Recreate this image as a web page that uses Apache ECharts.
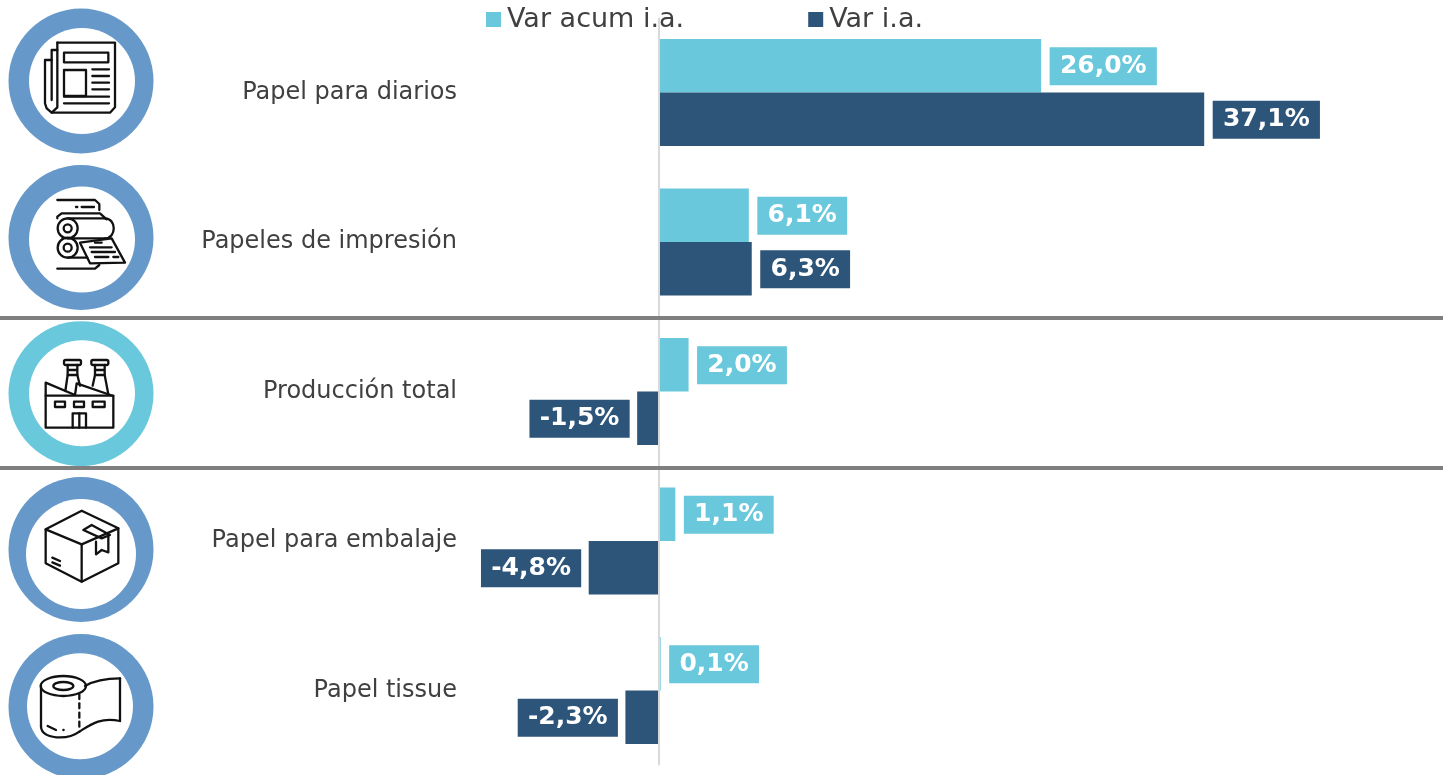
<!DOCTYPE html>
<html><head><meta charset="utf-8">
<style>html,body{margin:0;padding:0;background:#fff}#c{width:1443px;height:775px}</style>
<script src="https://cdn.jsdelivr.net/npm/echarts@6/dist/echarts.min.js"></script>
</head><body><div id="c"></div>
<script>
const categories = ['Papel para diarios','Papeles de impresión','Producción total','Papel para embalaje','Papel tissue'];
const varAcum = [26.0, 6.1, 2.0, 1.1, 0.1];
const varIa = [37.1, 6.3, -1.5, -4.8, -2.3];
const seriesNames = ['Var acum i.a.','Var i.a.'];
const LIGHT='#69C8DC', DARK='#2D5479', RING='#6699C9', INK='#111111';
const FONT='"DejaVu Sans", Verdana, sans-serif';

const chart = echarts.init(document.getElementById('c'));
const style = {stroke:INK, lineWidth:2.3, fill:'none', lineCap:'round', lineJoin:'round'};
function P(pts,close){return {type:close?'polygon':'polyline',shape:{points:pts.map(p=>[p[0]/3,p[1]/3])},style};}
function L(x1,y1,x2,y2){return {type:'line',shape:{x1:x1/3,y1:y1/3,x2:x2/3,y2:y2/3},style};}
function R(x,y,x2,y2,r){return {type:'rect',shape:{x:x/3,y:y/3,width:(x2-x)/3,height:(y2-y)/3,r:(r||0)/3},style};}
function C(x,y,r){return {type:'circle',shape:{cx:x/3,cy:y/3,r:r/3},style};}
function E(x,y,rx,ry){return {type:'ellipse',shape:{cx:x/3,cy:y/3,rx:rx/3,ry:ry/3},style};}
function B(x1,y1,a,b,c,d,x2,y2){return {type:'bezierCurve',shape:{x1:x1/3,y1:y1/3,cpx1:a/3,cpy1:b/3,cpx2:c/3,cpy2:d/3,x2:x2/3,y2:y2/3},style};}

const newspaper = [
  P([[172,128],[345,128],[345,322],[330,338],[155,338]]),
  P([[172,128],[172,322],[155,338],[140,325],[135,310],[135,180],[155,180]]),
  P([[172,150],[155,150],[155,300]]),
  R(192,158,325,187), R(192,210,258,288),
  L(277,208,327,208),L(277,228,327,228),L(277,248,327,248),L(277,268,327,268),L(192,290,327,290),L(192,310,327,310)
];
const rollers = [
  P([[172,600],[285,600],[298,612],[298,630]]), L(228,621,232,621), L(245,621,282,621),
  P([[172,655],[172,650],[185,640],[300,640],[320,658]]),
  C(203,685,30),C(203,685,12),C(203,743,30),C(203,743,12),
  L(203,655,315,655), B(315,655,350,655,350,715,315,715), L(203,715,315,715),
  P([[240,728],[335,715],[375,788],[270,790]],true), L(203,773,262,773),
  L(285,728,305,728),L(270,742,335,742),L(275,756,345,756),L(285,771,325,771),L(340,771,355,771),
  P([[172,806],[285,806],[298,795]])
];
const factory = [
  R(192,135,243,150,5),R(274,135,325,150,5),
  P([[203,150],[203,180],[196,228]]),P([[232,150],[232,180],[240,212]]),L(205,165,230,165),L(203,180,232,180),
  P([[285,150],[285,180],[278,212]]),P([[314,150],[314,180],[325,238]]),L(287,165,312,165),L(285,180,314,180),
  P([[137,338],[137,203],[225,240],[230,205],[340,243],[340,338]],true),L(137,242,340,242),
  R(165,260,195,276),R(222,260,252,276),R(278,260,314,276),
  P([[218,338],[218,295],[258,295],[258,338]]),L(238,295,238,338)
];
const box = [
  P([[245,587],[355,640],[355,745],[245,800],[137,745],[137,643]],true),
  P([[137,643],[245,688],[355,640]]),L(245,688,245,800),
  P([[250,645],[275,630],[330,660],[305,670]],true),
  P([[288,680],[288,718],[305,705],[325,712],[325,658]]),
  L(157,728,180,738),L(157,742,180,752)
];
const roll = [
  E(190,183,68,30),E(190,183,30,12),L(123,183,123,305),
  B(123,305,125,345,205,345,238,320),
  B(255,183,285,165,320,160,360,160),L(360,160,360,288),
  B(360,288,300,275,270,300,238,320),
  L(238,207,238,222),L(238,235,238,250),L(238,263,238,278),L(238,290,238,305),
  L(143,303,168,315),L(190,315,191,315)
];
// ring: outer centre/radius, hole centre/radius, colour, icon, icon offset
const rings = [
  [81,81,72.5, 82,81,53, RING, newspaper, 0,0],
  [81,237.5,72.5, 82,239.5,53, RING, rollers, 0,0],
  [81,393.7,72.5, 82,393.2,53, LIGHT, factory, 0,315],
  [81,549.5,72.5, 81,554,55, RING, box, 0,315],
  [81,706.5,72.5, 80,706.3,53, RING, roll, 0,625]
];
const graphics = [];
[318,468].forEach(y=>graphics.push({type:'rect',z:10,shape:{x:0,y:y-2,width:1443,height:4},style:{fill:'#7F7F7F'},silent:true}));
rings.forEach(r=>{
  graphics.push({type:'circle',shape:{cx:r[0],cy:r[1],r:r[2]},style:{fill:r[6]},silent:true});
  graphics.push({type:'circle',shape:{cx:r[3],cy:r[4],r:r[5]},style:{fill:'#fff'},silent:true});
  graphics.push({type:'group',x:r[8],y:r[9],silent:true,children:r[7]});
});

function items(values,color){
  return values.map(v=>({value:v,label:{position:v<0?'left':'right',distance:v<0?7.5:8.5,backgroundColor:color}}));
}
function seriesOf(name,values,color,extra){
  return Object.assign({
    type:'bar',name,data:items(values,color),barWidth:53.5,barGap:0,
    itemStyle:{color},z:3,
    label:{show:true,offset:[0,0.6],color:'#fff',fontFamily:FONT,fontWeight:'bold',fontSize:25,
      lineHeight:38,height:38,padding:[0,10.25],
      formatter:p=>p.value.toFixed(1).replace('.',',')+'%'}
  },extra||{});
}
chart.setOption({
  animation:false,
  backgroundColor:'#fff',
  textStyle:{fontFamily:FONT},
  legend:{show:true,left:481,top:1,icon:'rect',itemWidth:15,itemHeight:15,itemGap:124,
    data:seriesNames,textStyle:{color:'#404040',fontSize:27,fontFamily:FONT,padding:[0,0,0,1]}},
  grid:{left:512.3,right:49.3,top:17.75,bottom:9.75,containLabel:false},
  xAxis:{type:'value',min:-10,max:50,show:false},
  yAxis:{type:'category',data:categories,inverse:true,
    axisLine:{show:false,onZero:false},axisTick:{show:false},splitLine:{show:false},
    axisLabel:{color:'#404040',fontSize:24,fontFamily:FONT,margin:55.3,padding:[4,0,0,0]}},
  graphic:graphics,
  series:[
    seriesOf(seriesNames[0],varAcum,LIGHT,{markLine:{silent:true,symbol:'none',label:{show:false},z:5,
      lineStyle:{color:'#D9D9D9',width:2,type:'solid'},data:[{xAxis:0}]}}),
    seriesOf(seriesNames[1],varIa,DARK)
  ]
});
</script></body></html>
